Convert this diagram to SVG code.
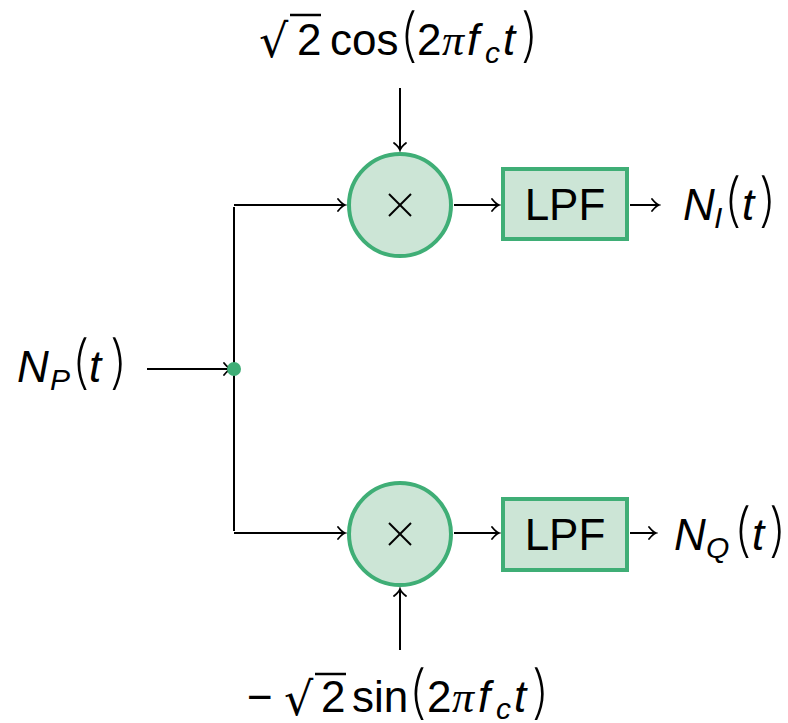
<svg xmlns="http://www.w3.org/2000/svg" width="788" height="723" viewBox="0 0 788 723">
<defs>
<marker id="arr" viewBox="-10 -7 12 14" markerWidth="12" markerHeight="14" refX="0" refY="0" orient="auto" markerUnits="userSpaceOnUse">
<path d="M -7 -6 Q -3 -1 0 0 Q -3 1 -7 6" fill="none" stroke="#000" stroke-width="1.8" stroke-linecap="round"/>
</marker>
<style>
.ln{stroke:#000;stroke-width:2;fill:none}
.node{fill:#cce5d6;stroke:#3fae76;stroke-width:4}
.t{font-family:"Liberation Sans",Arial,sans-serif;font-size:44px;fill:#000}
.i{font-style:italic}
.p{font-family:Inter,"Liberation Sans",sans-serif;font-size:58px;font-weight:200}
.pi{font-family:"Liberation Serif","Times New Roman",serif;font-style:italic}
.r{font-family:"DejaVu Sans",sans-serif;font-size:46px}
.sub{font-size:30px}
.x{stroke:#000;stroke-width:2}
.vin{stroke:#000;stroke-width:2.5}
</style>
</defs>
<g id="connectors">
<line class="ln" x1="400" y1="88" x2="400" y2="150" marker-end="url(#arr)"/>
<line class="ln" x1="400" y1="650" x2="400" y2="589" marker-end="url(#arr)"/>
<line class="ln" x1="147" y1="369" x2="231" y2="369" marker-end="url(#arr)"/>
<line class="ln" x1="234" y1="207" x2="234" y2="531"/>
<line class="ln" x1="234" y1="205" x2="345" y2="205" marker-end="url(#arr)"/>
<line class="ln" x1="234" y1="533" x2="345" y2="533" marker-end="url(#arr)"/>
<line class="ln" x1="454" y1="205" x2="499" y2="205" marker-end="url(#arr)"/>
<line class="ln" x1="454" y1="533" x2="499" y2="533" marker-end="url(#arr)"/>
<line class="ln" x1="630" y1="205" x2="659" y2="205" marker-end="url(#arr)"/>
<line class="ln" x1="630" y1="533" x2="656" y2="533" marker-end="url(#arr)"/>
</g>
<g id="junction"><circle cx="234" cy="369" r="7" fill="#3fae76"/></g>
<g id="mult_top">
<circle class="node" cx="400" cy="205" r="51"/>
<line class="x" x1="389" y1="194" x2="411" y2="216"/><line class="x" x1="411" y1="194" x2="389" y2="216"/>
</g>
<g id="mult_bot">
<circle class="node" cx="400" cy="534" r="51"/>
<line class="x" x1="389" y1="523" x2="411" y2="545"/><line class="x" x1="411" y1="523" x2="389" y2="545"/>
</g>
<g id="lpf_top">
<rect class="node" x="503" y="169" width="124" height="70"/>
<text class="t" x="565" y="220" text-anchor="middle">LPF</text>
</g>
<g id="lpf_bot">
<rect class="node" x="503" y="499" width="124" height="71"/>
<text class="t" x="565" y="550" text-anchor="middle">LPF</text>
</g>
<g id="label_cos">
<line class="vin" x1="290" y1="15" x2="321" y2="15"/>
<text class="t"><tspan class="r" x="259" y="57">√</tspan><tspan x="297" y="55">2</tspan><tspan x="330" y="55">cos</tspan><tspan class="p" x="399" y="55">(</tspan><tspan x="417" y="55">2</tspan><tspan class="pi" x="442" y="55">π</tspan><tspan class="i" x="467" y="55">f</tspan><tspan class="i sub" x="485" y="63">c</tspan><tspan class="i" x="503" y="55">t</tspan><tspan class="p" x="520" y="55">)</tspan></text>
</g>
<g id="label_sin">
<line class="vin" x1="315" y1="674" x2="346" y2="674"/>
<text class="t"><tspan x="247" y="712">−</tspan><tspan class="r" x="284" y="715">√</tspan><tspan x="321" y="712">2</tspan><tspan x="352" y="712">sin</tspan><tspan class="p" x="408" y="712">(</tspan><tspan x="427" y="712">2</tspan><tspan class="pi" x="452" y="712">π</tspan><tspan class="i" x="478" y="712">f</tspan><tspan class="i sub" x="496" y="719">c</tspan><tspan class="i" x="514" y="712">t</tspan><tspan class="p" x="531" y="712">)</tspan></text>
</g>
<g id="label_np">
<text class="t"><tspan class="i" x="17" y="382">N</tspan><tspan class="i sub" x="50" y="390">P</tspan><tspan class="p" x="71" y="382">(</tspan><tspan class="i" x="89" y="382">t</tspan><tspan class="p" x="109" y="382">)</tspan></text>
</g>
<g id="label_ni">
<text class="t"><tspan class="i" x="683" y="220">N</tspan><tspan class="i sub" x="714" y="228">I</tspan><tspan class="p" x="723" y="220">(</tspan><tspan class="i" x="742" y="220">t</tspan><tspan class="p" x="758" y="220">)</tspan></text>
</g>
<g id="label_nq">
<text class="t"><tspan class="i" x="674" y="550">N</tspan><tspan class="i sub" x="706" y="558">Q</tspan><tspan class="p" x="733" y="550">(</tspan><tspan class="i" x="752" y="550">t</tspan><tspan class="p" x="768" y="550">)</tspan></text>
</g>
</svg>
